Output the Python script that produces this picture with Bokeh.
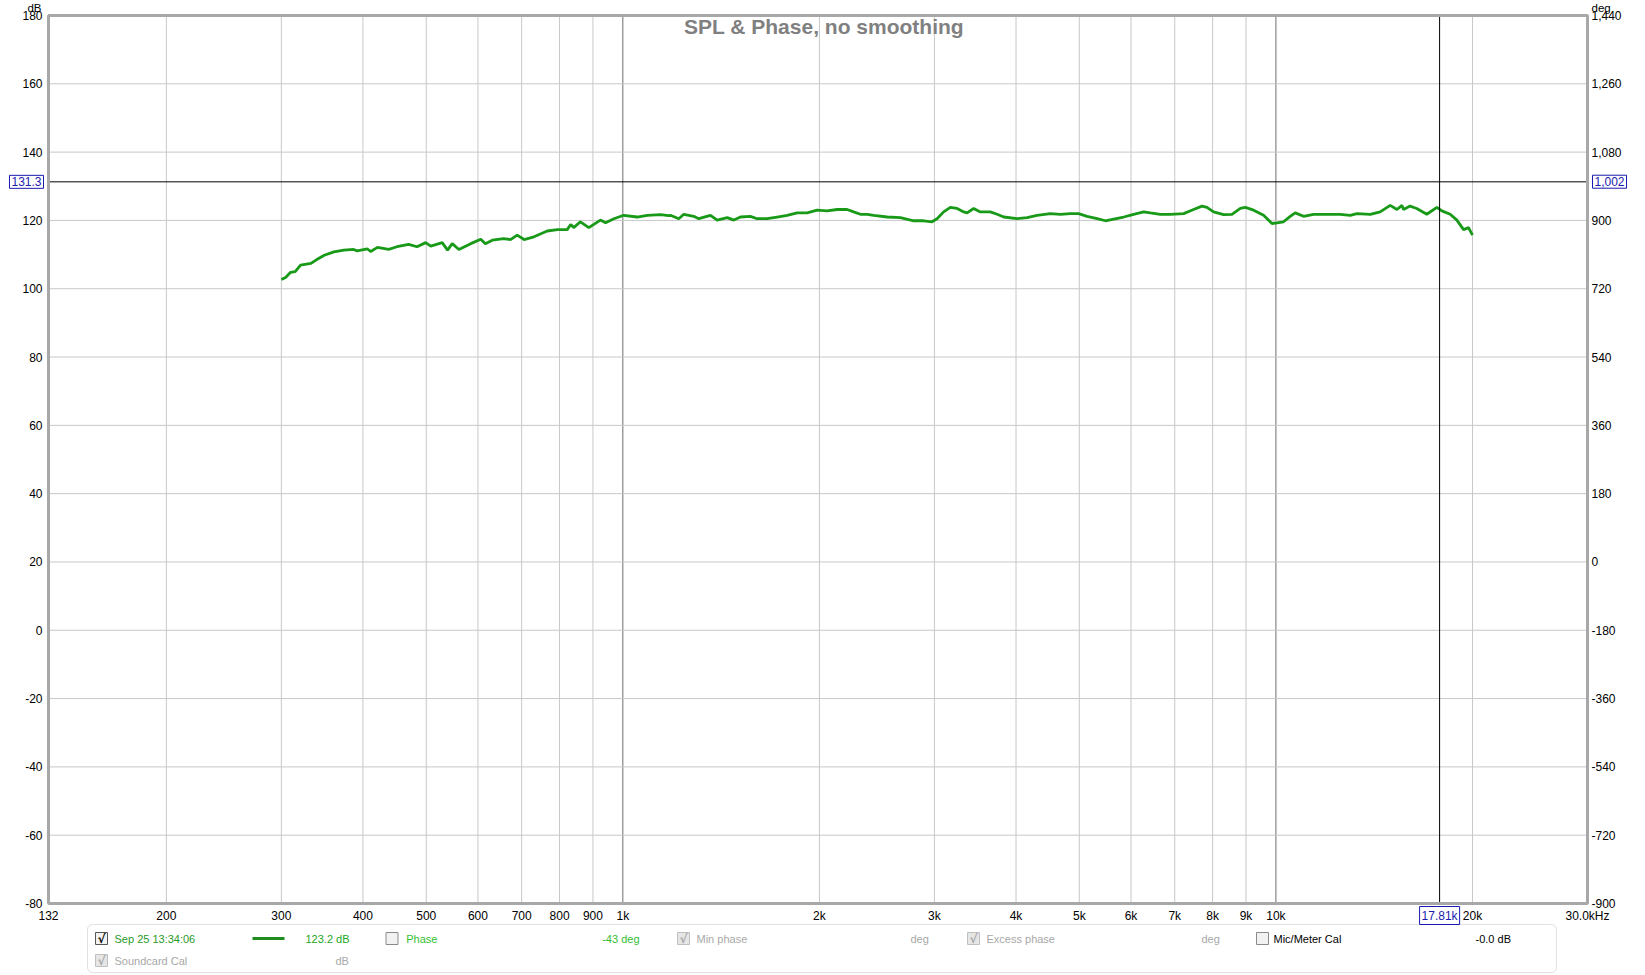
import numpy as np
from bokeh.plotting import figure
from bokeh.models import Range1d, LinearScale, ColumnDataSource, BoxAnnotation
from bokeh.embed import file_html
from bokeh.resources import INLINE
from bokeh.core.properties import value

FONT = "Liberation Sans"

# ---------------- data ----------------
freq_hz = [300, 304.5, 310, 315, 321, 333, 339, 349, 361, 374, 387, 392, 406, 411, 421,
           438, 451, 470, 484, 499, 508, 529, 539, 548, 561, 585, 606, 616, 631, 657,
           673, 689, 706, 731, 766, 794, 822, 832, 841, 861, 887, 924, 941, 969, 1003,
           1052, 1090, 1142, 1176,
           1183, 1218, 1240, 1284, 1307, 1362, 1395, 1445, 1479, 1514, 1568, 1606, 1663,
           1723, 1785, 1849, 1915, 1984, 2055, 2129, 2205, 2257, 2311, 2367, 2422, 2540,
           2661, 2789, 2889, 2975, 3028, 3099, 3173, 3250, 3327, 3366, 3445, 3527, 3653,
           3742, 3830, 4015, 4160, 4308, 4515, 4677,
           4845, 4989, 5139, 5324, 5482, 5645, 5847, 6056, 6274, 6423, 6653, 6892, 7223,
           7481, 7706, 7842, 8027, 8316, 8565, 8821, 8979, 9245, 9575, 9862, 10037, 10274,
           10517, 10705, 11024, 11418, 11970, 12548, 12998, 13306, 13950, 14443, 14964,
           15324, 15596, 15683, 16050, 16430, 17023, 17641, 17953, 18490, 18928, 19378,
           19723, 20000]
spl_db = [102.7, 103.3, 104.8, 105.0, 106.9, 107.4, 108.4, 109.8, 110.8, 111.3, 111.5, 111.1,
          111.7, 110.9, 112.1, 111.5, 112.3, 113.0, 112.3, 113.5, 112.5, 113.5, 111.3, 113.2,
          111.5, 113.2, 114.5, 113.2, 114.2, 114.7, 114.4, 115.7, 114.4, 115.2, 116.9, 117.3,
          117.3, 118.8, 117.9, 119.6, 117.9, 120.1, 119.3, 120.5, 121.5, 121.0, 121.5, 121.7,
          121.4,
          121.5, 120.5, 121.8, 121.2, 120.5, 121.5, 120.1, 120.8, 120.1, 121.0, 121.2, 120.5,
          120.5, 121.0, 121.5, 122.2, 122.2, 123.0, 122.8, 123.2, 123.2, 122.5, 121.8, 121.8,
          121.5, 121.0, 120.8, 119.9, 119.9, 119.6, 120.5, 122.5, 123.8, 123.5, 122.5, 122.2,
          123.5, 122.5, 122.5, 121.8, 121.0, 120.5, 120.8, 121.5, 122.0, 121.8,
          122.0, 122.0, 121.2, 120.5, 119.9, 120.4, 121.0, 121.8, 122.5, 122.2, 121.8, 121.8,
          122.0, 123.2, 124.2, 123.8, 122.5, 121.7, 121.8, 123.5, 123.8, 123.0, 121.5, 119.1,
          119.3, 119.6, 121.2, 122.2, 121.2, 121.8, 121.8, 121.8, 121.5, 122.0, 121.8, 122.5,
          124.4, 123.2, 124.4, 123.2, 124.2, 123.5, 121.8, 123.8, 122.8, 121.8, 120.1, 117.3,
          117.9, 115.7]

F_MIN, F_MAX = 132, 30000
SPL_MIN, SPL_MAX = -80, 180
DEG_MIN, DEG_MAX = -900, 1440

x_ticks = [132, 200, 300, 400, 500, 600, 700, 800, 900, 1000, 2000, 3000, 4000, 5000,
           6000, 7000, 8000, 9000, 10000, 20000, 30000]
x_tick_labels = ["132", "200", "300", "400", "500", "600", "700", "800", "900", "1k", "2k",
                 "3k", "4k", "5k", "6k", "7k", "8k", "9k", "10k", "20k", "30.0kHz"]
x_minor_grid = [200, 300, 400, 500, 600, 700, 800, 900, 2000, 3000, 4000, 5000, 6000,
                7000, 8000, 9000, 20000]
x_major_grid = [1000, 10000]
spl_ticks = [-80, -60, -40, -20, 0, 20, 40, 60, 80, 100, 120, 140, 160, 180]
deg_ticks = [-900, -720, -540, -360, -180, 0, 180, 360, 540, 720, 900, 1080, 1260, 1440]
cursor_freq = 17810
cursor_freq_label = "17.81k"
cursor_spl = 131.3
cursor_spl_label = "131.3"
cursor_deg = 1002
cursor_deg_label = "1,002"
title_text = "SPL & Phase, no smoothing"

legend_texts = ["Sep 25 13:34:06", "123.2 dB", "Phase", "-43 deg", "Min phase", "deg",
                "Excess phase", "deg", "Mic/Meter Cal", "-0.0 dB", "Soundcard Cal", "dB"]
legend_text_colors = ["#2a9a2a", "#22a822", "#33c033", "#33c033", "#a8a8a8", "#a8a8a8",
                      "#a8a8a8", "#a8a8a8", "#000000", "#000000", "#a8a8a8", "#a8a8a8"]
legend_checks = [True, False, True, True, False, True]
legend_check_style = ["on", "off", "gray", "gray", "off", "gray"]

# ---------------- layout (pixels) ----------------
W, H = 1640, 974
FL, FR, FT, FB = 48, 1587, 15, 903          # plot-area edges on the canvas

dec_pp = np.log10(F_MAX / F_MIN) / (FR - FL)
x_lo = F_MIN * 10 ** (-FL * dec_pp)
x_hi = F_MAX * 10 ** ((W - FR) * dec_pp)
db_pp = (SPL_MAX - SPL_MIN) / (FB - FT)
y_lo = SPL_MIN - (H - FB) * db_pp
y_hi = SPL_MAX + FT * db_pp
deg_pp = (DEG_MAX - DEG_MIN) / (FB - FT)
d_lo = DEG_MIN - (H - FB) * deg_pp
d_hi = DEG_MAX + FT * deg_pp

p = figure(width=W, height=H, x_axis_type="log",
           x_range=Range1d(x_lo, x_hi), y_range=Range1d(y_lo, y_hi),
           output_backend="svg", toolbar_location=None, min_border=0,
           x_axis_location=None, y_axis_location=None)
p.extra_y_ranges = {"deg": Range1d(d_lo, d_hi), "px": Range1d(H, 0)}
p.extra_x_ranges = {"px": Range1d(0, W)}
p.extra_x_scales = {"px": LinearScale()}
p.grid.visible = False
p.outline_line_color = None
p.background_fill_color = "white"
p.border_fill_color = "white"

GRID = "#c8c8c8"
# vertical grid
p.segment(x0=x_minor_grid, y0=[SPL_MIN] * len(x_minor_grid), x1=x_minor_grid,
          y1=[SPL_MAX] * len(x_minor_grid), line_color=GRID, line_width=1)
p.segment(x0=x_major_grid, y0=[SPL_MIN] * len(x_major_grid), x1=x_major_grid,
          y1=[SPL_MAX] * len(x_major_grid), line_color="#6e6e6e", line_width=1)
# horizontal grid
p.segment(x0=[F_MIN] * len(spl_ticks), y0=spl_ticks, x1=[F_MAX] * len(spl_ticks),
          y1=spl_ticks, line_color=GRID, line_width=1)

# curve
src = ColumnDataSource(dict(f=freq_hz, db=spl_db))
p.line("f", "db", source=src, line_width=2.8, line_color="#189a18")

# cursors
p.segment(x0=[cursor_freq], y0=[SPL_MIN], x1=[cursor_freq], y1=[SPL_MAX],
          line_color="black", line_width=1)
p.segment(x0=[F_MIN], y0=[cursor_spl], x1=[F_MAX], y1=[cursor_spl],
          line_color="black", line_width=1)

# plot-area border
p.quad(left=[F_MIN], right=[F_MAX], bottom=[SPL_MIN], top=[SPL_MAX],
       fill_color=None, line_color="#a8a8a8", line_width=3)

# tick labels
tick_kw = dict(text_font=value(FONT), text_font_size="12px", text_color="black")
p.text(x=x_ticks, y=[SPL_MIN] * len(x_ticks), text=x_tick_labels, text_align="center",
       text_baseline="middle", y_offset=12, **tick_kw)
p.text(x=[F_MIN] * len(spl_ticks), y=spl_ticks, text=[str(v) for v in spl_ticks],
       text_align="right", text_baseline="middle", x_offset=-6, **tick_kw)
p.text(x=[F_MAX] * len(deg_ticks), y=deg_ticks, y_range_name="deg",
       text=[f"{v:,}" for v in deg_ticks], text_align="left", text_baseline="middle",
       x_offset=4, **tick_kw)
p.text(x=[F_MIN], y=[SPL_MAX], text=["dB"], text_align="right", text_baseline="bottom",
       x_offset=-7, y_offset=-2, text_font=value(FONT), text_font_size="11.5px",
       text_color="black")
p.text(x=[F_MAX], y=[DEG_MAX], y_range_name="deg", text=["deg"], text_align="left",
       text_baseline="bottom", x_offset=4, y_offset=-2, text_font=value(FONT),
       text_font_size="11.5px", text_color="black")

# boxed cursor readouts
box_kw = dict(text_font=value(FONT), text_font_size="12px", text_color="#1a1ab0",
              border_line_color="#1a1ab0", border_line_width=1,
              background_fill_color="white", background_fill_alpha=1.0)
p.text(x=[F_MIN], y=[cursor_spl], text=[cursor_spl_label], text_align="right",
       text_baseline="middle", x_offset=-5, padding=2, **box_kw)
p.text(x=[F_MAX], y=[cursor_deg], y_range_name="deg", text=[cursor_deg_label],
       text_align="left", text_baseline="middle", x_offset=5, padding=2, **box_kw)
p.text(x=[cursor_freq], y=[SPL_MIN], text=[cursor_freq_label], text_align="center",
       text_baseline="middle", y_offset=12, padding=2, **box_kw)

# title
p.text(x=[float(np.sqrt(F_MIN * F_MAX))], y=[SPL_MAX], text=[title_text],
       text_align="center", text_baseline="top", x_offset=6, y_offset=-1,
       text_font=value(FONT), text_font_size="21px", text_font_style="bold",
       text_color="#808080")

# ---------------- legend panel (pixel coordinates) ----------------
px = dict(x_range_name="px", y_range_name="px")
p.add_layout(BoxAnnotation(left=87, right=1556, top=924, bottom=972, level="underlay",
                           x_range_name="px", y_range_name="px",
                           fill_color="white", fill_alpha=1.0,
                           line_color="#9a9a9a", line_width=1, border_radius=5))

row1, row2 = 938, 960
cb_x = [101, 391.5, 683, 973, 1262, 101]
cb_y = [row1, row1, row1, row1, row1, row2]
cb_fill = {"on": "#f2f2f2", "off": "#f2f2f2", "gray": "#e6e6e6"}
cb_line = {"on": "#555555", "off": "#8a8a8a", "gray": "#c0c0c0"}
cb_mark = {"on": "#000000", "off": "#000000", "gray": "#a8a8a8"}
p.rect(x=cb_x, y=cb_y, width=12, height=12,
       fill_color=[cb_fill[s] for s in legend_check_style],
       line_color=[cb_line[s] for s in legend_check_style], line_width=1, **px)
mx = [x for x, c in zip(cb_x, legend_checks) if c]
my = [y for y, c in zip(cb_y, legend_checks) if c]
mc = [cb_mark[s] for s, c in zip(legend_check_style, legend_checks) if c]
p.text(x=mx, y=my, text=["√"] * len(mx), text_color=mc, text_align="center",
       text_baseline="middle", text_font=value("DejaVu Sans"), text_font_size="12px",
       text_font_style="bold", **px)

p.segment(x0=[252], y0=[row1], x1=[284], y1=[row1], line_width=3, line_color="#1e8c1e", **px)

tx = [114, 305, 405.7, 601.7, 696, 910, 986, 1201, 1273, 1475, 114, 335]
ty = [row1] * 10 + [row2, row2]
p.text(x=tx, y=ty, text=legend_texts, text_color=legend_text_colors,
       text_align="left", text_baseline="middle", text_font=value(FONT),
       text_font_size="11px", **px)

open("out.html", "w").write(file_html(p, INLINE))
